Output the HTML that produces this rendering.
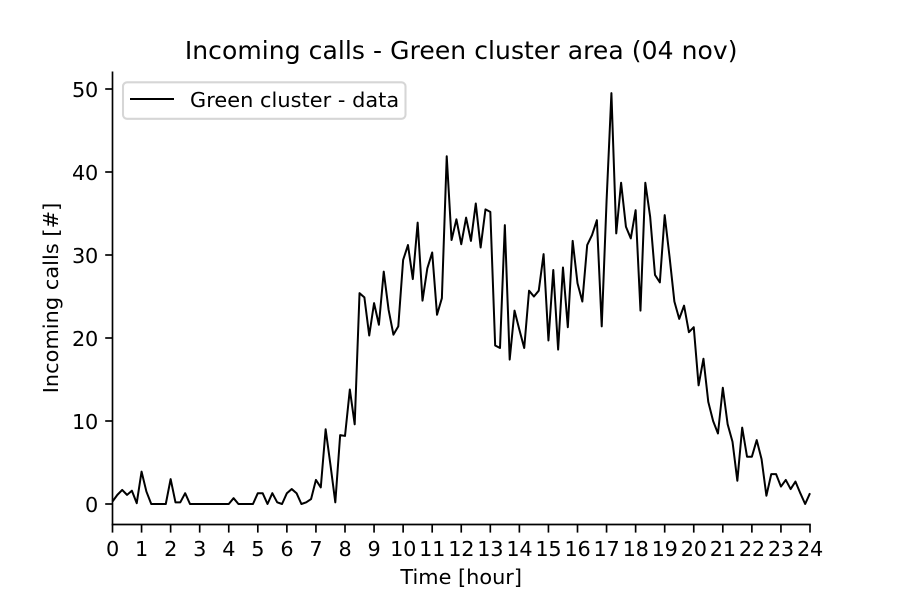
<!DOCTYPE html>
<html lang="en">
<head>
<meta charset="utf-8">
<title>Incoming calls - Green cluster area (04 nov)</title>
<style>
html,body{margin:0;padding:0;background:#fff;width:900px;height:600px;overflow:hidden}
svg{display:block}
text{font-family:"DejaVu Sans","Liberation Sans",sans-serif;fill:#000}
</style>
</head>
<body>
<svg id="chart" xmlns="http://www.w3.org/2000/svg" width="900" height="600" viewBox="0 0 900 600">
  <text x="461.2" y="59" font-size="25" letter-spacing="0.07" text-anchor="middle">Incoming calls - Green cluster area (04 nov)</text>
  <text x="461.2" y="584" font-size="20.83" text-anchor="middle">Time [hour]</text>
  <text transform="translate(58,298) rotate(-90)" font-size="20.83" letter-spacing="0.05" text-anchor="middle">Incoming calls [#]</text>
  <g id="ticks"></g>
  <polyline id="series" fill="none" stroke="#000" stroke-width="2" stroke-linejoin="round" stroke-linecap="butt"></polyline>
  <line x1="112.5" y1="71.5" x2="112.5" y2="525.3" stroke="#000" stroke-width="1.67"></line>
  <line x1="111.7" y1="524.5" x2="810.8" y2="524.5" stroke="#000" stroke-width="1.67"></line>
  <g>
    <rect x="123" y="82.3" width="282.5" height="36.5" rx="4" ry="4" fill="#fff" fill-opacity="0.8" stroke="#ccc" stroke-opacity="0.8" stroke-width="2.08"></rect>
    <line x1="130" y1="99" x2="174" y2="99" stroke="#000" stroke-width="2.08"></line>
    <text x="190" y="107" font-size="20.83" letter-spacing="0.05">Green cluster - data</text>
  </g>
</svg>
<script>
const calls = [
  0.3,1.1,1.7,1.1,1.6,0.1,3.9,1.5,0,0,0,0,
  3.0,0.2,0.2,1.3,0,0,0,0,0,0,0,0,
  0,0.7,0,0,0,0,1.3,1.3,0,1.3,0.2,0,
  1.3,1.8,1.3,0,0.2,0.6,2.9,2.0,9.0,4.7,0.2,8.3,
  8.2,13.8,9.6,25.4,24.9,20.3,24.2,21.6,28.0,23.4,20.4,21.4,
  29.4,31.2,27.1,33.9,24.5,28.4,30.3,22.8,24.8,41.9,31.8,34.3,
  31.3,34.5,31.7,36.2,30.9,35.5,35.2,19.1,18.8,33.6,17.4,23.3,
  21.0,18.8,25.7,25.0,25.7,30.1,19.7,28.2,18.6,28.5,21.3,31.7,
  26.6,24.4,31.2,32.4,34.2,21.4,36.5,49.5,32.6,38.7,33.4,32.0,
  35.4,23.3,38.7,34.6,27.6,26.7,34.8,29.8,24.4,22.3,23.9,20.7,
  21.3,14.3,17.5,12.3,10.0,8.5,14.0,9.6,7.5,2.8,9.2,5.7,
  5.7,7.7,5.4,1.0,3.6,3.6,2.1,2.9,1.8,2.7,1.3,0.0,1.3
];
const xTickLabels = [0,1,2,3,4,5,6,7,8,9,10,11,12,13,14,15,16,17,18,19,20,21,22,23,24];
const yTickLabels = [0,10,20,30,40,50];

const hoursPerSample = 1 / 6;
const SVGNS = 'http://www.w3.org/2000/svg';
function xScale(hour) { return 112.5 + hour * (810 - 112.5) / 24; }
function yScale(value) { return 504 - value * 8.3; }

const series = document.getElementById('series');
series.setAttribute('points', calls.map(function (v, i) {
  return xScale(i * hoursPerSample).toFixed(2) + ',' + yScale(v).toFixed(2);
}).join(' '));

const ticks = document.getElementById('ticks');
xTickLabels.forEach(function (h) {
  const px = xScale(h);
  const mark = document.createElementNS(SVGNS, 'line');
  
  
  mark.setAttribute('x1', px);
  mark.setAttribute('x2', px);
  mark.setAttribute('y1', 524.5);
  mark.setAttribute('y2', 532.6);
  mark.setAttribute('stroke', '#000');
  mark.setAttribute('stroke-width', 1.67);
  ticks.appendChild(mark);
  const label = document.createElementNS(SVGNS, 'text');
  
  
  label.setAttribute('x', px);
  label.setAttribute('y', 556);
  label.setAttribute('font-size', 20.83);
  label.setAttribute('letter-spacing', -0.25);
  label.setAttribute('text-anchor', 'middle');
  label.textContent = String(h);
  ticks.appendChild(label);
});
yTickLabels.forEach(function (v) {
  const py = yScale(v);
  const mark = document.createElementNS(SVGNS, 'line');
  
  
  mark.setAttribute('x1', 105.2);
  mark.setAttribute('x2', 112.5);
  mark.setAttribute('y1', py);
  mark.setAttribute('y2', py);
  mark.setAttribute('stroke', '#000');
  mark.setAttribute('stroke-width', 1.67);
  ticks.appendChild(mark);
  const label = document.createElementNS(SVGNS, 'text');
  
  
  label.setAttribute('x', 98);
  label.setAttribute('y', py + 7.9);
  label.setAttribute('font-size', 20.83);
  label.setAttribute('letter-spacing', -0.25);
  label.setAttribute('text-anchor', 'end');
  label.textContent = String(v);
  ticks.appendChild(label);
});
</script>
</body>
</html>
